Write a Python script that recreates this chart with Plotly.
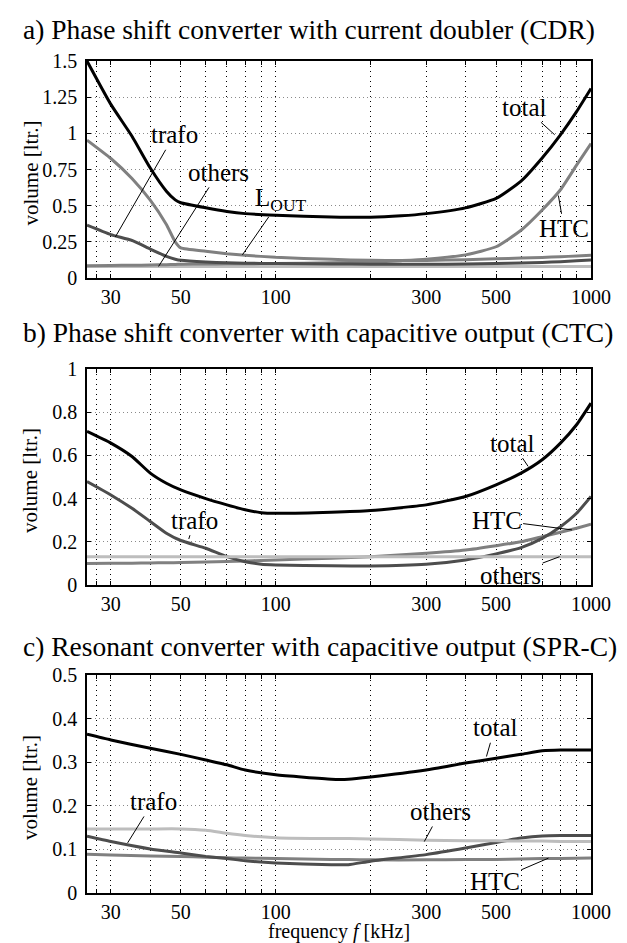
import plotly.graph_objects as go
import numpy as np

# ---------------- data (frequency in kHz, volume in litres) ----------------
f_a = [25.2, 30, 35, 40, 45, 48, 50, 60, 70, 80, 100, 150, 200, 250, 300, 400, 500, 600, 700, 800, 900, 1000]
a_total = [1.50, 1.20, 0.98, 0.76, 0.60, 0.54, 0.52, 0.485, 0.46, 0.445, 0.434, 0.422, 0.42, 0.43, 0.445, 0.485, 0.55, 0.67, 0.83, 0.99, 1.15, 1.31]
a_lout = [0.953, 0.826, 0.688, 0.538, 0.37, 0.25, 0.208, 0.185, 0.168, 0.157, 0.143, 0.129, 0.122, 0.121, 0.121, 0.127, 0.133, 0.138, 0.142, 0.147, 0.152, 0.157]
a_htc = [0.085, 0.087, 0.088, 0.09, 0.092, 0.094, 0.095, 0.097, 0.098, 0.099, 0.10, 0.105, 0.11, 0.12, 0.13, 0.16, 0.216, 0.33, 0.47, 0.61, 0.78, 0.93]
a_trafo = [0.365, 0.30, 0.26, 0.20, 0.15, 0.13, 0.122, 0.11, 0.105, 0.102, 0.10, 0.097, 0.095, 0.095, 0.095, 0.097, 0.10, 0.104, 0.108, 0.113, 0.119, 0.125]
a_others = [0.08] * 22

f_b = [25.2, 30, 35, 40, 45, 50, 60, 70, 80, 90, 100, 150, 200, 300, 400, 500, 600, 700, 800, 900, 1000]
b_total = [0.711, 0.657, 0.595, 0.518, 0.471, 0.44, 0.40, 0.371, 0.348, 0.335, 0.332, 0.337, 0.345, 0.371, 0.41, 0.464, 0.518, 0.58, 0.657, 0.742, 0.842]
b_trafo = [0.479, 0.417, 0.355, 0.294, 0.24, 0.206, 0.17, 0.131, 0.108, 0.096, 0.093, 0.089, 0.088, 0.096, 0.116, 0.144, 0.173, 0.216, 0.27, 0.332, 0.41]
b_htc = [0.10, 0.101, 0.101, 0.102, 0.103, 0.104, 0.106, 0.109, 0.111, 0.114, 0.116, 0.124, 0.131, 0.147, 0.162, 0.182, 0.20, 0.224, 0.244, 0.263, 0.281]
b_others = [0.131] * 21

f_c = [25.2, 30, 40, 50, 60, 70, 80, 100, 150, 170, 200, 300, 400, 500, 600, 700, 800, 1000]
c_total = [0.364, 0.351, 0.332, 0.318, 0.305, 0.294, 0.282, 0.271, 0.261, 0.261, 0.266, 0.282, 0.298, 0.309, 0.318, 0.326, 0.328, 0.328]
c_others = [0.147, 0.147, 0.147, 0.147, 0.144, 0.137, 0.132, 0.127, 0.125, 0.125, 0.124, 0.121, 0.12, 0.12, 0.119, 0.119, 0.118, 0.118]
c_trafo = [0.13, 0.118, 0.101, 0.092, 0.084, 0.079, 0.074, 0.069, 0.065, 0.065, 0.073, 0.088, 0.103, 0.116, 0.126, 0.131, 0.132, 0.132]
c_htc = [0.089, 0.087, 0.085, 0.084, 0.082, 0.081, 0.080, 0.079, 0.077, 0.077, 0.076, 0.076, 0.077, 0.077, 0.078, 0.079, 0.079, 0.08]

x_tick_vals = [30, 50, 100, 300, 500, 1000]
x_tick_text = ["30", "50", "100", "300", "500", "1000"]
x_minor_vals = [27, 40, 60, 70, 80, 90, 200, 400, 600, 700, 800, 900]

titles = ["a) Phase shift converter with current doubler (CDR)",
          "b) Phase shift converter with capacitive output (CTC)",
          "c) Resonant converter with capacitive output (SPR-C)"]

# ---------------- styling ----------------
FONT = "Liberation Serif"
C_TOTAL = "#000000"
C_DARK = "#4d4d4d"
C_MID = "#808080"
C_LIGHT = "#bdbdbd"
LW = 3

fig = go.Figure()

def add(x, y, color, ax):
    fig.add_trace(go.Scatter(x=x, y=y, mode="lines",
                             line=dict(color=color, width=LW, shape="spline", smoothing=0.5),
                             xaxis="x" + ax, yaxis="y" + ax, showlegend=False, hoverinfo="skip"))

# panel a
add(f_a, a_others, C_LIGHT, "")
add(f_a, a_htc, C_MID, "")
add(f_a, a_trafo, C_DARK, "")
add(f_a, a_lout, C_MID, "")
add(f_a, a_total, C_TOTAL, "")
# panel b
add(f_b, b_htc, C_MID, "2")
add(f_b, b_trafo, C_DARK, "2")
add(f_b, b_others, C_LIGHT, "2")
add(f_b, b_total, C_TOTAL, "2")
# panel c
add(f_c, c_htc, C_MID, "3")
add(f_c, c_trafo, C_DARK, "3")
add(f_c, c_others, C_LIGHT, "3")
add(f_c, c_total, C_TOTAL, "3")

W, H = 627, 943
L, R = 79, 44
T, B = 53, 58
plot_w = W - L - R
plot_h = H - T - B
def fy(py):
    return (H - B - py) / plot_h
def fx(px):
    return (px - L) / plot_w

domains = [(fy(270), fy(53)), (fy(577), fy(361)), (fy(885), fy(667))]
yranges = [[0, 1.5], [0, 1], [0, 0.5]]
ytickvals = [[0, 0.25, 0.5, 0.75, 1, 1.25, 1.5], [0, 0.2, 0.4, 0.6, 0.8, 1], [0, 0.1, 0.2, 0.3, 0.4, 0.5]]
ytext = [["0", "0.25", "0.5", "0.75", "1", "1.25", "1.5"], ["0", "0.2", "0.4", "0.6", "0.8", "1"], ["0", "0.1", "0.2", "0.3", "0.4", "0.5"]]

layout = dict(
    width=W, height=H,
    margin=dict(l=L, r=R, t=T, b=B),
    paper_bgcolor="white", plot_bgcolor="white",
    font=dict(family=FONT, color="black", size=20),
)
for i in range(3):
    sfx = "" if i == 0 else str(i + 1)
    layout["xaxis" + sfx] = dict(
        type="log", range=[np.log10(25.2), 3], domain=[0, 1],
        anchor="y" + sfx,
        tickvals=x_tick_vals, ticktext=x_tick_text,
        showgrid=True, gridcolor="#000000", griddash="1px,4px", gridwidth=1,
        minor=dict(tickvals=x_minor_vals, ticks="inside", ticklen=4, tickcolor="black",
                   showgrid=True, gridcolor="#000000", griddash="1px,4px", gridwidth=1),
        showline=True, linecolor="black", linewidth=1.5, mirror="ticks",
        ticks="inside", ticklen=4, tickcolor="black", tickwidth=1,
        ticklabelstandoff=0,
        tickfont=dict(family=FONT, size=20), zeroline=False,
    )
    layout["yaxis" + sfx] = dict(
        range=yranges[i], domain=list(domains[i]), anchor="x" + sfx,
        tickvals=ytickvals[i], ticktext=ytext[i],
        showgrid=True, gridcolor="#8a8a8a", griddash="1px,3px", gridwidth=1,
        showline=True, linecolor="black", linewidth=1.5, mirror="ticks",
        ticks="inside", ticklen=4, tickcolor="black", tickwidth=1,
        ticklabelstandoff=4,
        tickfont=dict(family=FONT, size=20), zeroline=False,
    )
fig.update_layout(**layout)

# panel titles
title_y = [22, 325, 638]
for t, py in zip(titles, title_y):
    fig.add_annotation(text=t, xref="paper", yref="paper", x=fx(13), y=fy(py),
                       xanchor="left", yanchor="middle", showarrow=False,
                       font=dict(family=FONT, size=27.5, color="black"))

# y-axis titles
for top, bot in [(53, 270), (361, 577), (667, 885)]:
    fig.add_annotation(text="volume [ltr.]", xref="paper", yref="paper", x=fx(22), y=fy((top + bot) / 2 + 4),
                       xanchor="center", yanchor="middle", showarrow=False, textangle=-90,
                       font=dict(family=FONT, size=21, color="black"))

# x-axis title
fig.add_annotation(text="frequency <i>f</i> [kHz]", xref="paper", yref="paper", x=fx((79 + 583) / 2), y=fy(923),
                   xanchor="center", yanchor="middle", showarrow=False,
                   font=dict(family=FONT, size=20, color="black"))

# curve labels with pointer lines: (text, text_f, text_v, head_f, head_v, axis suffix)
labels = [
    ("total", 615, 1.18, 767, 0.99, ""),
    ("HTC", 822, 0.34, 788, 0.57, ""),
    ("trafo", 47.7, 0.99, 31, 0.284, ""),
    ("others", 65.9, 0.73, 42.5, 0.08, ""),
    ("L<sub>OUT</sub>", 103.6, 0.54, 78.4, 0.16, ""),
    ("total", 563, 0.657, 632, 0.549, "2"),
    ("trafo", 55.3, 0.30, 53, 0.213, "2"),
    ("HTC", 502, 0.30, 870, 0.255, "2"),
    ("others", 556, 0.046, 795, 0.131, "2"),
    ("total", 495, 0.379, 466, 0.313, "3"),
    ("trafo", 40.9, 0.21, 33.9, 0.115, "3"),
    ("others", 333, 0.187, 296, 0.118, "3"),
    ("HTC", 495, 0.027, 733, 0.08, "3"),
]
for txt, tf, tv, hf, hv, sfx in labels:
    fig.add_annotation(text=txt, x=np.log10(hf), y=hv, ax=np.log10(tf), ay=tv,
                       xref="x" + sfx, yref="y" + sfx, axref="x" + sfx, ayref="y" + sfx,
                       showarrow=True, arrowhead=0, arrowwidth=1, arrowcolor="black",
                       font=dict(family=FONT, size=25, color="black"), bgcolor="rgba(0,0,0,0)")

fig.write_html("out.html")
